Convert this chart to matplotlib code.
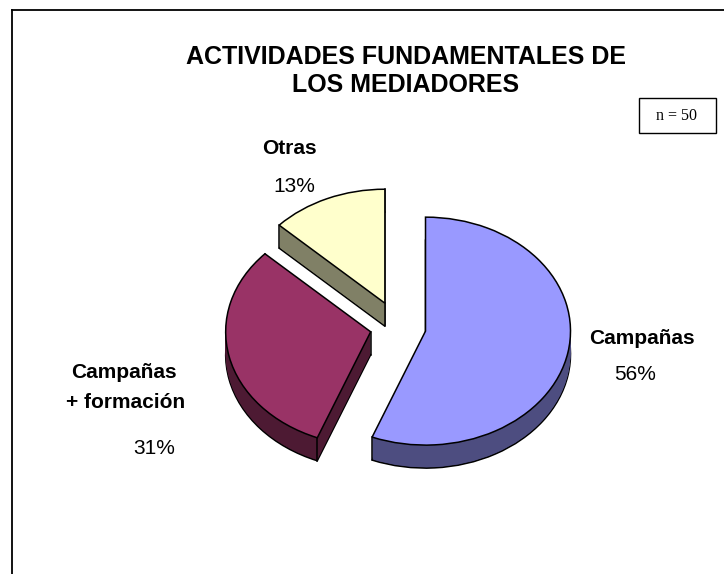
import matplotlib
matplotlib.use('Agg')
import matplotlib.pyplot as plt
import numpy as np
from matplotlib.lines import Line2D
from matplotlib.patches import Rectangle

W, H = 724, 574

categories = ['Campañas', 'Campañas\n+ formación', 'Otras']
values = [56, 31, 13]
top_colors = ['#9999FF', '#993366', '#FFFFCC']
side_colors = ['#4D4D80', '#4D1A33', '#808066']
title = 'ACTIVIDADES FUNDAMENTALES DE\nLOS MEDIADORES'
note = 'n = 50'

# pie geometry in pixels: squash of the ellipse, extrusion, slice offsets
squash = 0.786
depth = 23
cx, cy = 398, 327
radius = 145
explode = [28, 28, 33]

plt.rcParams['font.family'] = ['Liberation Sans', 'DejaVu Sans']

fig = plt.figure(figsize=(W / 100, H / 100), dpi=100)
ax = fig.add_axes([0, 0, 1, 1])


def draw_pie(offset, colors, edge, lw):
    center = (cx, (H - cy - offset) / squash)
    wedges, _ = ax.pie(values, explode=explode, radius=radius, center=center,
                       startangle=90, counterclock=False, colors=colors,
                       wedgeprops={'edgecolor': edge, 'linewidth': lw})
    return wedges


# bottom outline, then the side fill, then the top face
bottom = draw_pie(depth, side_colors, 'black', 1.1)
for d in range(depth - 1, 0, -1):
    draw_pie(d, side_colors, 'none', 0)

# vertical corners of the side faces
for i, w in enumerate(bottom):
    x0, y0 = w.center
    pts = [(x0 + w.r * np.cos(np.radians(a)), y0 + w.r * np.sin(np.radians(a))) for a in (w.theta1, w.theta2)]
    pts.append((x0, y0))
    for x, y in pts:
        # the first slice only shows its lower left corner
        if i == 0 and (x, y) != pts[0]:
            continue
        ax.plot([x, x], [y, y + depth / squash], color='black', lw=1.1, zorder=1.5)

top = draw_pie(0, top_colors, 'black', 1.1)
for p in top:
    p.set_zorder(2)

ax.set_aspect('auto')
ax.set_xlim(0, W)
ax.set_ylim(0, H / squash)
ax.axis('off')


def fx(x):
    return x / W


def fy(y):
    return 1 - y / H


# chart frame, only left and top are inside the crop
fig.add_artist(Line2D([fx(12), fx(12)], [fy(10), fy(H)], color='black', lw=1.3))
fig.add_artist(Line2D([fx(12), fx(W)], [fy(10), fy(10)], color='black', lw=1.3))

fig.text(fx(406), fy(71), title, ha='center', va='center', fontsize=18, fontweight='bold',
         linespacing=1.2, color='black')

# n box
fig.add_artist(Rectangle((fx(639), fy(133)), 77 / W, 35 / H, transform=fig.transFigure,
                         facecolor='white', edgecolor='black', lw=1.0))
fig.text(fx(677), fy(116), note, ha='center', va='center', fontsize=11.5,
         family=['Liberation Serif', 'DejaVu Serif'])

# category labels and percentages
fs = 15
fig.text(fx(642), fy(339), categories[0], ha='center', va='center', fontsize=fs, fontweight='bold')
fig.text(fx(635), fy(374), f'{values[0]}%', ha='center', va='center', fontsize=fs)
fig.text(fx(124), fy(372), categories[1].split('\n')[0], ha='center', va='center', fontsize=fs, fontweight='bold')
fig.text(fx(126), fy(403), categories[1].split('\n')[1], ha='center', va='center', fontsize=fs, fontweight='bold')
fig.text(fx(154), fy(448), f'{values[1]}%', ha='center', va='center', fontsize=fs)
fig.text(fx(289), fy(149), categories[2], ha='center', va='center', fontsize=fs, fontweight='bold')
fig.text(fx(294), fy(187), f'{values[2]}%', ha='center', va='center', fontsize=fs)

fig.savefig('out.png', dpi=100, facecolor='white')
